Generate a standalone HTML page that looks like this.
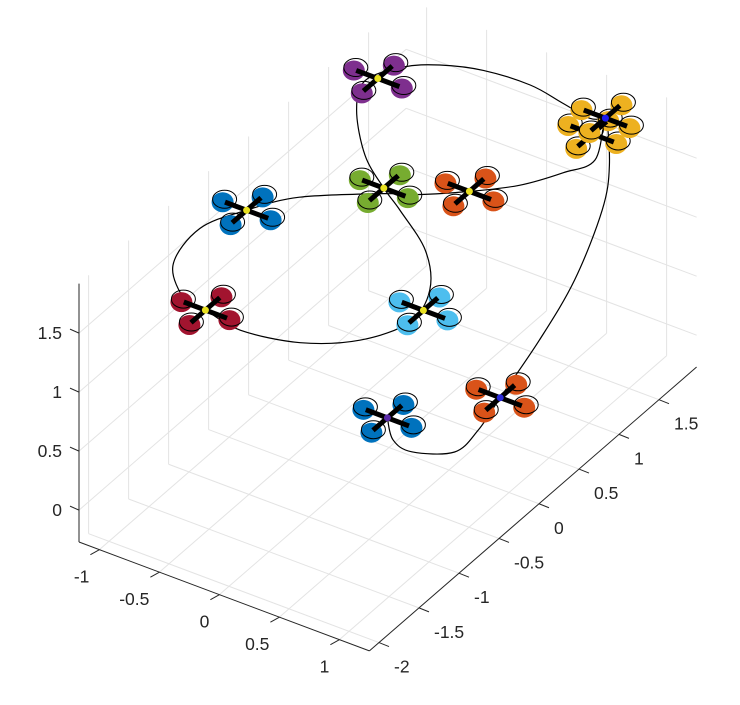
<!DOCTYPE html>
<html><head><meta charset="utf-8"><style>
html,body{margin:0;padding:0;background:#fff;}
svg{display:block;font-family:"Liberation Sans",Arial,sans-serif;}
</style></head><body>
<svg id="chart" width="740" height="705" viewBox="0 0 740 705" xmlns="http://www.w3.org/2000/svg">
<g id="grid"></g>
<g id="axes"></g>
<g id="traj"></g>
<g id="quads"></g>
</svg>
<script>
const xTicks=[-1,-0.5,0,0.5,1];
const yTicks=[-2,-1.5,-1,-0.5,0,0.5,1,1.5];
const zTicks=[0,0.5,1,1.5];
const xTickLabels=["-1","-0.5","0","0.5","1"];
const yTickLabels=["-2","-1.5","-1","-0.5","0","0.5","1","1.5"];
const zTickLabels=["0","0.5","1","1.5"];
const xLim=[-1.17,1.25], yLim=[-2.12,1.97], zLim=[-0.27,1.92];
// trajectory (x,y,z)
const pathX=[0.48,0.66,0.85,1.10,1.13,1.12,1.12,1.08,0.93,0.79,0.53,0.75,0.65,0.48,0.23,-0.04,-0.26,-0.72,-0.94,-1.09,-1.00,-0.69,-0.51,-0.17,0.26,0.59,0.76,0.66,0.37,-0.05,-0.29,-0.62,-0.97,-1.12,-0.99,-0.79,-0.50,-0.13,0.18,0.44,0.53];
const pathY=[-0.74,-0.94,-0.99,-0.83,-0.58,-0.29,0.20,0.70,1.27,1.57,1.91,1.45,1.20,0.91,0.66,0.44,0.31,-0.04,-0.37,-0.73,-1.20,-1.51,-1.53,-1.60,-1.50,-1.25,-0.88,-0.48,-0.10,0.21,0.37,0.63,1.05,1.38,1.66,1.82,1.93,1.96,1.90,1.85,1.91];
const pathZ=[0.6,0.6,0.6,0.6,0.65,0.75,0.95,1.15,1.35,1.5,1.6,1.6,1.6,1.6,1.6,1.6,1.6,1.6,1.6,1.6,1.6,1.6,1.6,1.6,1.6,1.6,1.6,1.6,1.6,1.6,1.6,1.6,1.6,1.6,1.6,1.6,1.6,1.6,1.6,1.6,1.6];
// quadrotors
const quadX=[0.48,1.12,0.48,0.53,0.23,-0.29,-0.94,-0.51,0.76,-1.06];
const quadY=[-0.74,-0.29,1.82,1.91,0.66,0.37,-0.37,-1.53,-0.71,1.45];
const quadZ=[0.6,0.75,1.5,1.6,1.6,1.6,1.6,1.6,1.6,1.6];
const quadColor=["#0072BD","#D95319","#EDB120","#EDB120","#D95319","#77AC30","#0072BD","#A2142F","#4DBEEE","#7E2F8E"];
const quadHub=["#5a2aa8","#2a2ad8","#2a2ad8","#1a1aee","#e8e020","#e8e020","#e8e020","#e8e020","#e8e020","#e8e020"];
const quadNames=["quad-start","quad-2","quad-3b","quad-3","quad-4","quad-5","quad-6","quad-7","quad-8","quad-9"];

const NS="http://www.w3.org/2000/svg";
function P(x,y,z){const a=x-xLim[0],b=y-yLim[0],c=z-zLim[0];return [79+a*120+b*80,542+a*45-b*69.4-c*118];}
function el(tag,attrs,parent){const e=document.createElementNS(NS,tag);for(const k in attrs)e.setAttribute(k,attrs[k]);parent.appendChild(e);return e;}
function line(p,q,stroke,w,parent,name){const e=el('line',{x1:p[0],y1:p[1],x2:q[0],y2:q[1],stroke:stroke,'stroke-width':w},parent);


return e;}
const grid=document.getElementById('grid'),axes=document.getElementById('axes');
const G="#e3e3e3";
xTicks.forEach(x=>{line(P(x,yLim[0],zLim[0]),P(x,yLim[1],zLim[0]),G,1,grid,'floor-grid-x');
 line(P(x,yLim[1],zLim[0]),P(x,yLim[1],zLim[1]),G,1,grid,'back-grid-x');});
yTicks.forEach(y=>{line(P(xLim[0],y,zLim[0]),P(xLim[1],y,zLim[0]),G,1,grid,'floor-grid-y');
 line(P(xLim[0],y,zLim[0]),P(xLim[0],y,zLim[1]),G,1,grid,'side-grid-y');});
zTicks.forEach(z=>{line(P(xLim[0],yLim[0],z),P(xLim[0],yLim[1],z),G,1,grid,'side-grid-z');
 line(P(xLim[0],yLim[1],z),P(xLim[1],yLim[1],z),G,1,grid,'back-grid-z');});
const A="#262626";
line(P(xLim[0],yLim[0],zLim[0]),P(xLim[0],yLim[0],zLim[1]),A,1,axes,'z-axis-line');
line(P(xLim[0],yLim[0],zLim[0]),P(xLim[1],yLim[0],zLim[0]),A,1,axes,'x-axis-line');
line(P(xLim[1],yLim[0],zLim[0]),P(xLim[1],yLim[1],zLim[0]),A,1,axes,'y-axis-line');
function txt(s,x,y,anchor,name){const t=el('text',{x:x,y:y,'text-anchor':anchor,'font-size':17.5,fill:A},axes);t.textContent=s;

}
xTicks.forEach((x,i)=>{const p=P(x,yLim[0],zLim[0]);line(p,[p[0]-9,p[1]+5],A,1,axes,'x-tick');txt(xTickLabels[i],p[0]-10,p[1]+33,'end','x-tick-label');});
yTicks.forEach((y,i)=>{const p=P(xLim[1],y,zLim[0]);line(p,[p[0]+10,p[1]+4],A,1,axes,'y-tick');txt(yTickLabels[i],p[0]+15,p[1]+30,'start','y-tick-label');});
zTicks.forEach((z,i)=>{const p=P(xLim[0],yLim[0],z);line(p,[p[0]-9,p[1]-4],A,1,axes,'z-tick');txt(zTickLabels[i],p[0]-17,p[1]+6,'end','z-tick-label');});
// trajectory
const pts=pathX.map((x,i)=>P(x,pathY[i],pathZ[i]));
let d="M"+pts[0][0].toFixed(1)+" "+pts[0][1].toFixed(1);
for(let i=0;i<pts.length-1;i++){const p0=pts[Math.max(0,i-1)],p1=pts[i],p2=pts[i+1],p3=pts[Math.min(pts.length-1,i+2)];
 const c1=[p1[0]+(p2[0]-p0[0])/6,p1[1]+(p2[1]-p0[1])/6],c2=[p2[0]-(p3[0]-p1[0])/6,p2[1]-(p3[1]-p1[1])/6];
 d+=` C${c1[0].toFixed(1)} ${c1[1].toFixed(1)} ${c2[0].toFixed(1)} ${c2[1].toFixed(1)} ${p2[0].toFixed(1)} ${p2[1].toFixed(1)}`;}
const tp=el('path',{d:d,fill:'none',stroke:'#000','stroke-width':1.2},document.getElementById('traj'));


// quads
const qg=document.getElementById('quads');
quadX.forEach((qx,i)=>{const qy=quadY[i],qz=quadZ[i],L=0.2;
 const g=el('g',{},qg);
 
 
 const rot=[[L,0],[-L,0],[0,L],[0,-L]];
 rot.forEach(r=>{const c=P(qx+r[0],qy+r[1],qz);
  const f=el('ellipse',{cx:c[0],cy:c[1]+1,rx:11,ry:10,fill:quadColor[i]},g);
  
  
  const o=el('ellipse',{cx:c[0]+2,cy:c[1]-2,rx:12,ry:9,fill:'none',stroke:'#000','stroke-width':1},g);
  
  });
 line(P(qx-L*0.9,qy,qz),P(qx+L*0.9,qy,qz),'#000',5,g,'arm');
 line(P(qx,qy-L*0.9,qz),P(qx,qy+L*0.9,qz),'#000',5,g,'arm');
 const c=P(qx,qy,qz);
 const h=el('circle',{cx:c[0],cy:c[1],r:3.5,fill:quadHub[i]},g);
 
 
});
</script>
</body></html>
